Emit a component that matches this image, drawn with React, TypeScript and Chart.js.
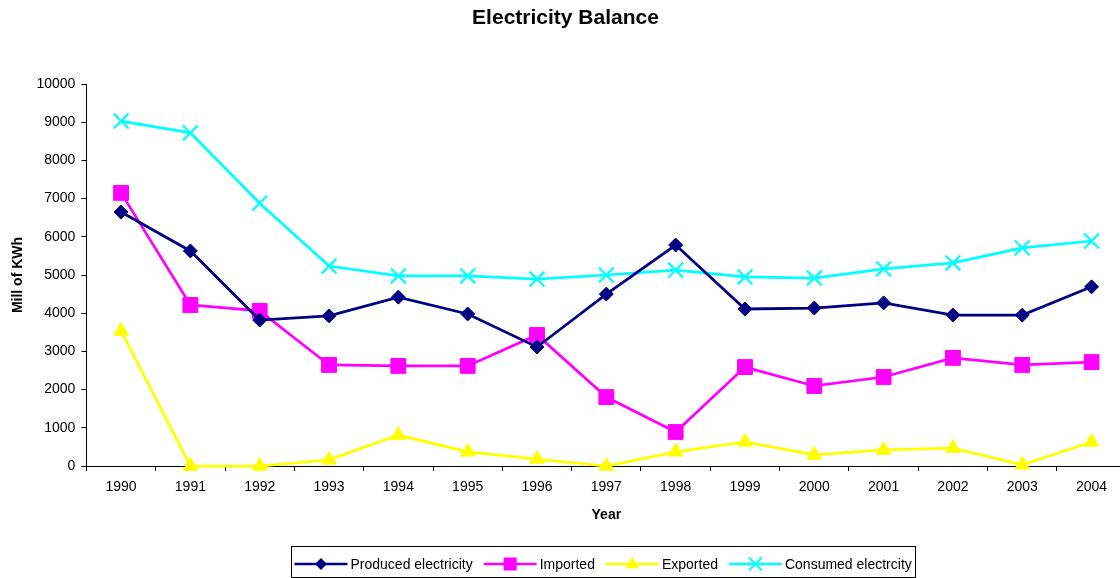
import React, { useEffect, useRef } from "react";
import { Chart, registerables } from "chart.js";

Chart.register(...registerables);

const years = ["1990","1991","1992","1993","1994","1995","1996","1997","1998","1999","2000","2001","2002","2003","2004"];
const produced = [6650, 5630, 3820, 3930, 4420, 3980, 3115, 4500, 5785, 4110, 4135, 4270, 3950, 3950, 4690];
const imported = [7150, 4215, 4060, 2645, 2620, 2620, 3430, 1805, 890, 2590, 2095, 2330, 2830, 2645, 2720];
const exported = [3535, 0, 0, 160, 810, 370, 180, 0, 370, 630, 290, 420, 470, 30, 630];
const consumed = [9030, 8720, 6880, 5235, 4975, 4975, 4895, 5000, 5130, 4950, 4920, 5160, 5315, 5710, 5890];

const chartTitle = "Electricity Balance";
const seriesNames = ["Produced electricity", "Imported", "Exported", "Consumed electrcity"];
const seriesColors = ["#000080", "#FF00FF", "#FFFF00", "#00FFFF"];
const seriesPoints = ["rectRot", "rect", "triangle", "crossRot"];
const seriesRadius = [7, 10.5, 8.5, 10.5];

const FONT = "Arial, 'Liberation Sans', sans-serif";

function drawMarker(ctx: CanvasRenderingContext2D, kind: number, x: number, y: number, color: string) {
  ctx.fillStyle = color;
  ctx.strokeStyle = color;
  ctx.beginPath();
  if (kind === 0) {
    const r = 6;
    ctx.moveTo(x, y - r);
    ctx.lineTo(x + r, y);
    ctx.lineTo(x, y + r);
    ctx.lineTo(x - r, y);
    ctx.closePath();
    ctx.fill();
  } else if (kind === 1) {
    const s = 6.5;
    ctx.rect(x - s, y - s, 2 * s, 2 * s);
    ctx.fill();
  } else if (kind === 2) {
    const r = 7.5;
    ctx.moveTo(x, y - r);
    ctx.lineTo(x + r * 0.9, y + r * 0.55);
    ctx.lineTo(x - r * 0.9, y + r * 0.55);
    ctx.closePath();
    ctx.fill();
  } else {
    const s = 6.5;
    ctx.lineWidth = 2;
    ctx.moveTo(x - s, y - s);
    ctx.lineTo(x + s, y + s);
    ctx.moveTo(x + s, y - s);
    ctx.lineTo(x - s, y + s);
    ctx.stroke();
  }
}

const decorPlugin = {
  id: "decor",
  afterDraw(chart: any) {
    const ctx: CanvasRenderingContext2D = chart.ctx;
    ctx.save();
    // title
    ctx.font = `bold 21px ${FONT}`;
    ctx.fillStyle = "#000";
    ctx.textAlign = "center";
    ctx.textBaseline = "middle";
    ctx.fillText(chartTitle, 565.5, 18);
    // legend
    ctx.font = `14px ${FONT}`;
    const lineLen = 53;
    const gapText = 3;
    const gapItem = 11;
    const boxL = 291.5;
    const boxR = 915.5;
    const boxT = 546.5;
    const boxH = 31;
    ctx.strokeStyle = "#000";
    ctx.lineWidth = 1;
    ctx.strokeRect(boxL, boxT, boxR - boxL, boxH);
    let x = boxL + 3;
    const y = 564;
    seriesNames.forEach((name, i) => {
      ctx.strokeStyle = seriesColors[i];
      ctx.lineWidth = 2.5;
      ctx.beginPath();
      ctx.moveTo(x, y);
      ctx.lineTo(x + lineLen, y);
      ctx.stroke();
      drawMarker(ctx, i, x + lineLen / 2, y, seriesColors[i]);
      ctx.fillStyle = "#000";
      ctx.textBaseline = "middle";
      ctx.textAlign = "left";
      ctx.fillText(name, x + lineLen + gapText, y + 1);
      x += lineLen + gapText + ctx.measureText(name).width + gapItem;
    });
    ctx.restore();
  },
};

export default function App() {
  const canvasRef = useRef<HTMLCanvasElement | null>(null);

  useEffect(() => {
    document.body.style.margin = "0";
    const canvas = canvasRef.current;
    if (!canvas) return;
    const data = [produced, imported, exported, consumed];
    const chart = new Chart(canvas, {
      type: "line",
      data: {
        labels: years,
        datasets: data.map((d, i) => ({
          label: seriesNames[i],
          data: d,
          borderColor: seriesColors[i],
          backgroundColor: seriesColors[i],
          borderWidth: 2.75,
          pointStyle: seriesPoints[i] as any,
          pointRadius: seriesRadius[i],
          pointBorderWidth: i === 3 ? 2.25 : 1,
          pointBorderColor: seriesColors[i],
          pointBackgroundColor: seriesColors[i],
          tension: 0,
          fill: false,
          clip: false as any,
        })),
      },
      options: {
        responsive: false,
        animation: false,
        devicePixelRatio: 1,
        layout: { padding: { left: 0, right: 0, top: 84, bottom: 0 } },
        plugins: {
          legend: { display: false },
          tooltip: { enabled: false },
          title: { display: false },
        },
        scales: {
          x: {
            type: "category",
            offset: true,
            grid: {
              display: true,
              drawOnChartArea: false,
              drawTicks: true,
              tickLength: 5,
              color: "#000",
              offset: true,
            },
            border: { display: true, color: "#000", width: 1 },
            ticks: {
              color: "#000",
              font: { family: FONT, size: 14 },
              padding: 8,
              maxRotation: 0,
              autoSkip: false,
            },
            title: {
              display: true,
              text: "Year",
              color: "#000",
              font: { family: FONT, size: 14, weight: "bold" },
              padding: { top: 0, bottom: 54 },
            },
            afterFit: (scale: any) => {
              scale.height = 112;
              scale.paddingLeft = 0;
              scale.paddingRight = 0;
            },
          },
          y: {
            min: 0,
            max: 10000,
            grid: {
              display: true,
              drawOnChartArea: false,
              drawTicks: true,
              tickLength: 5,
              color: "#000",
            },
            border: { display: true, color: "#000", width: 1 },
            ticks: {
              stepSize: 1000,
              color: "#000",
              font: { family: FONT, size: 14 },
              padding: 6,
              callback: (v: any) => String(v),
            },
            title: {
              display: true,
              text: "Mill of KWh",
              color: "#000",
              font: { family: FONT, size: 14, weight: "bold" },
              padding: { top: 10, bottom: 0 },
            },
            afterFit: (scale: any) => {
              scale.width = 86.4;
            },
          },
        },
      },
      plugins: [decorPlugin],
    });
    return () => chart.destroy();
  }, []);

  return (
    <div style={{ width: 1120, height: 578, overflow: "hidden", background: "#fff" }}>
      <canvas ref={canvasRef} width={1139} height={578} style={{ display: "block" }} />
    </div>
  );
}
